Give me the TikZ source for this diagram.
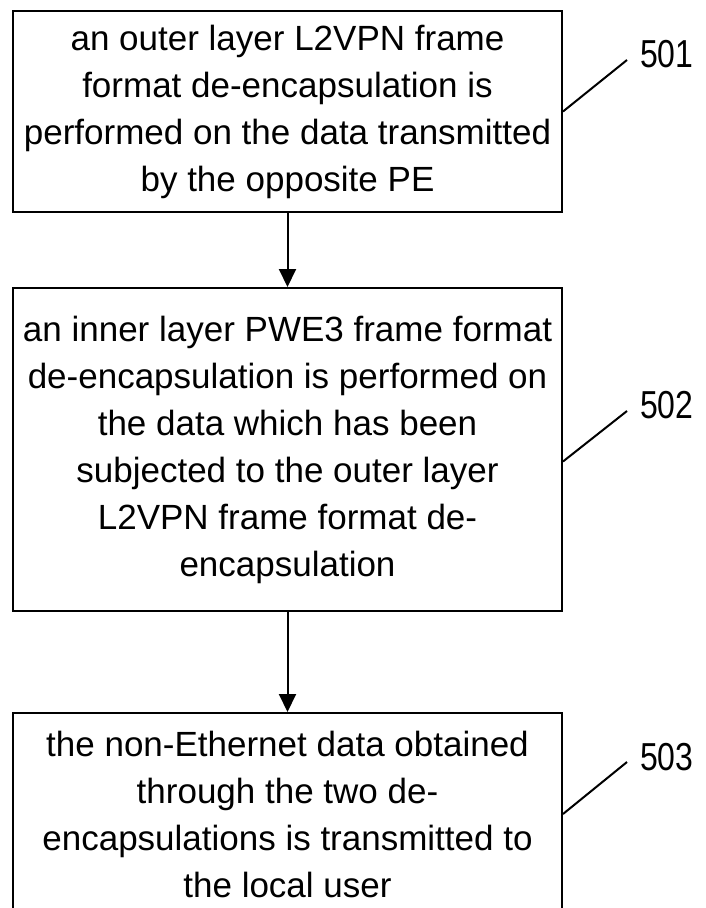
\documentclass[tikz,border=0pt]{standalone}
\usepackage{fontspec}
\setmainfont{Liberation Sans}
\newfontfamily\numfont{Liberation Sans}[FakeStretch=0.82]
\usetikzlibrary{arrows.meta}

\begin{document}
\begin{tikzpicture}[x=1pt, y=-1pt,
    stepbox/.style={draw, line width=2pt, minimum width=549pt, inner sep=0pt,
      align=center, font=\fontsize{35}{47}\selectfont},
    flow/.style={line width=2pt, -{Triangle[width=17pt,length=18pt]}},
    leader/.style={line width=2pt},
    refnum/.style={font=\numfont\fontsize{39}{39}\selectfont, inner sep=0pt, anchor=base west}]
  \useasboundingbox (0,0) rectangle (705,908);
  \clip (0,0) rectangle (705,908);

  \node[stepbox, minimum height=201pt] (s501) at (287.5,111.5)
    {an outer layer L2VPN frame\\format de-encapsulation is\\performed on the data transmitted\\by the opposite PE};
  \node[stepbox, minimum height=323pt] (s502) at (287.5,449.5)
    {an inner layer PWE3 frame format\\de-encapsulation is performed on\\the data which has been\\subjected to the outer layer\\L2VPN frame format de-\\encapsulation};
  \node[stepbox, minimum height=202pt] (s503) at (287.5,814)
    {the non-Ethernet data obtained\\through the two de-\\encapsulations is transmitted to\\the local user};

  \draw[flow] (s501) -- (s502);
  \draw[flow] (s502) -- (s503);

  % reference numerals
  \coordinate (t501) at (627,60);
  \coordinate (t502) at (627,411);
  \coordinate (t503) at (627,762);
  \draw[leader] (s501.east) -- (t501);
  \draw[leader] ([yshift=-12pt]s502.east) -- (t502);
  \draw[leader] (s503.east) -- (t503);

  \node[refnum] (n501) at (640,67) {501};
  \node[refnum] (n502) at (640,418) {502};
  \node[refnum] (n503) at (640,770) {503};

\end{tikzpicture}
\end{document}
